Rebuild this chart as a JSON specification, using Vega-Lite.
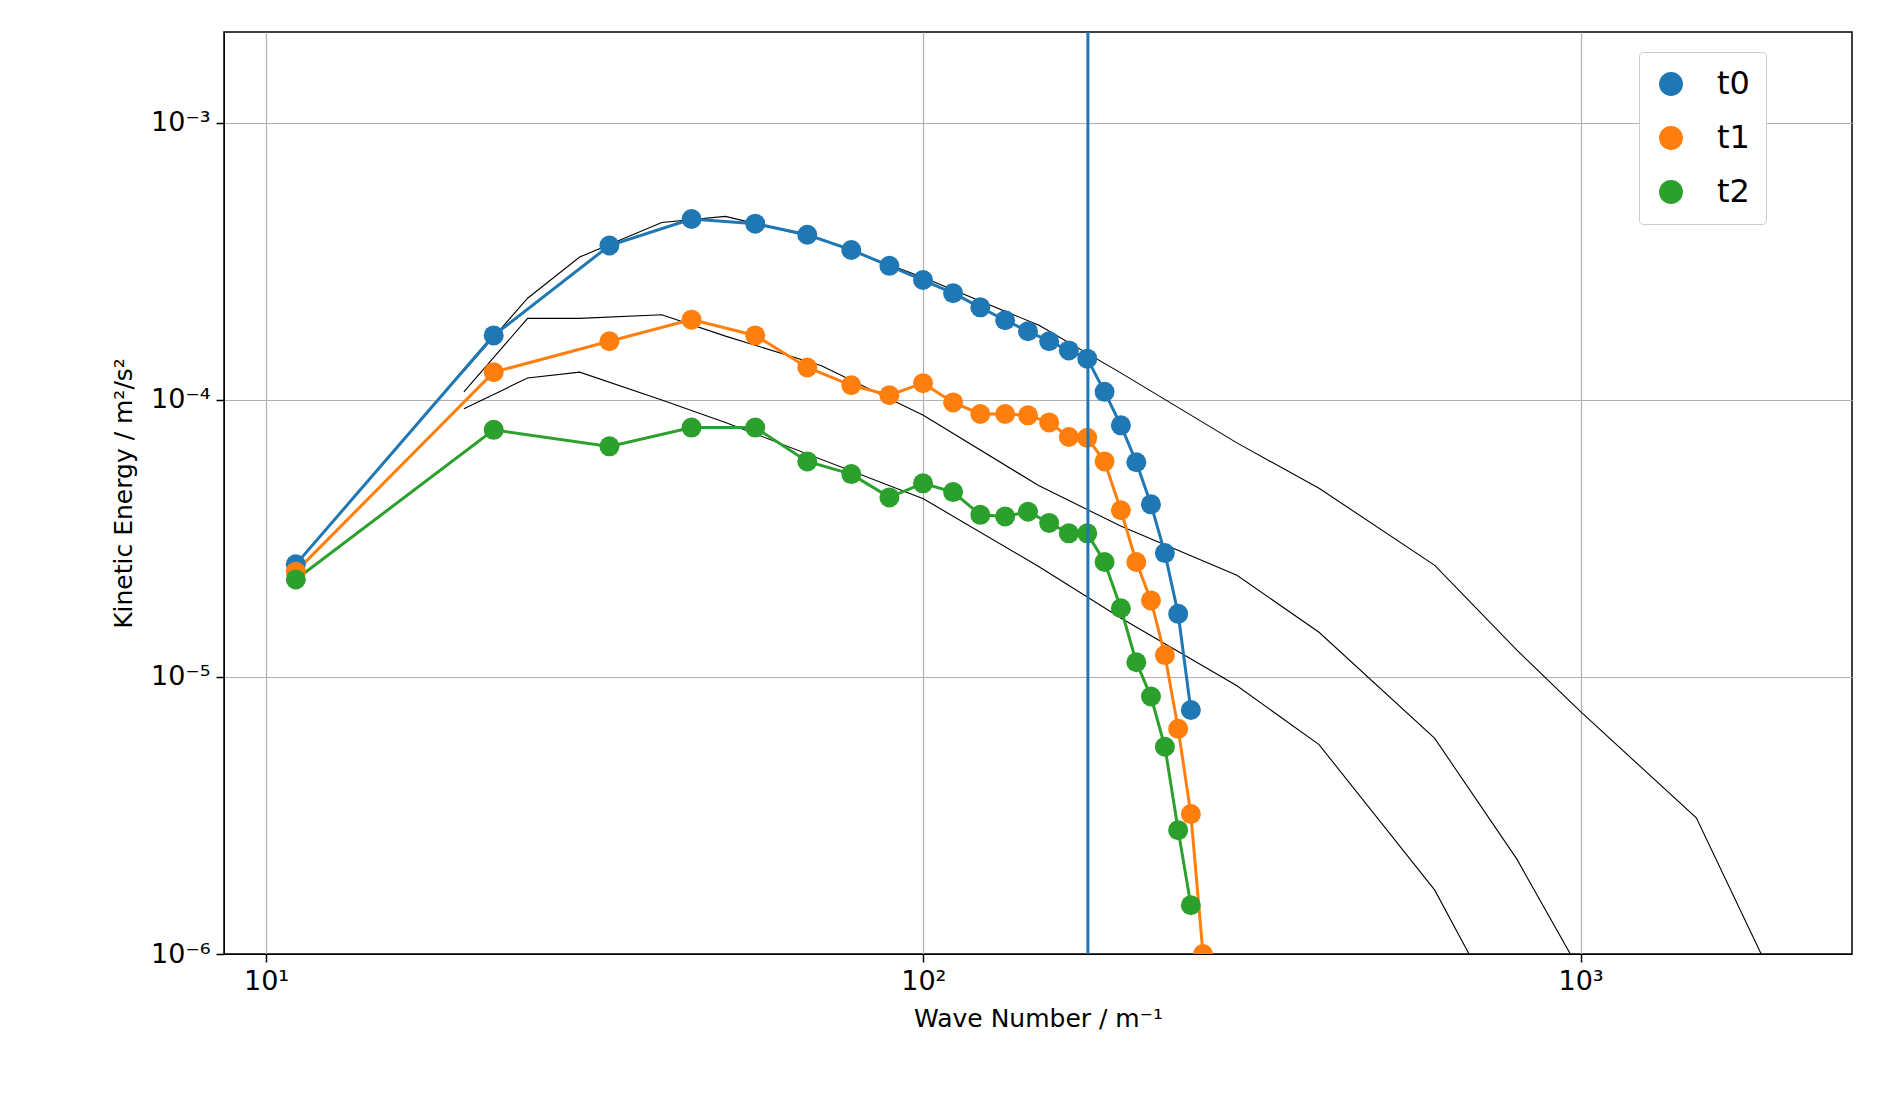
{
"$schema":"https://vega.github.io/schema/vega-lite/v6.json",
"width":1628,"height":922,"autosize":"none",
"padding":{"left":224,"top":32,"right":29,"bottom":164},
"background":"white",
"config":{"view":{"stroke":"black","strokeWidth":1.5},"font":"DejaVu Sans","axis":{"labelFont":"DejaVu Sans","titleFont":"DejaVu Sans","labelFontSize":27,"titleFontSize":25,"titleFontWeight":"normal","labelColor":"black","titleColor":"black","domainColor":"black","tickColor":"black","tickWidth":1.5,"gridColor":"#b0b0b0","gridWidth":1.2}},
"datasets":{
"main":[
{"s":"t0","k":11.1,"E":2.55e-5},{"s":"t0","k":22.2,"E":1.71e-4},{"s":"t0","k":33.3,"E":3.61e-4},{"s":"t0","k":44.4,"E":4.5e-4},{"s":"t0","k":55.5,"E":4.33e-4},{"s":"t0","k":66.6,"E":3.95e-4},{"s":"t0","k":77.7,"E":3.48e-4},{"s":"t0","k":88.8,"E":3.05e-4},{"s":"t0","k":99.9,"E":2.71e-4},{"s":"t0","k":111,"E":2.43e-4},{"s":"t0","k":122.1,"E":2.16e-4},{"s":"t0","k":133.2,"E":1.94e-4},{"s":"t0","k":144.3,"E":1.77e-4},{"s":"t0","k":155.4,"E":1.63e-4},{"s":"t0","k":166.5,"E":1.51e-4},{"s":"t0","k":177.6,"E":1.41e-4},{"s":"t0","k":188.7,"E":1.07e-4},{"s":"t0","k":199.8,"E":8.1e-5},{"s":"t0","k":210.9,"E":5.96e-5},{"s":"t0","k":222,"E":4.2e-5},{"s":"t0","k":233.1,"E":2.8e-5},{"s":"t0","k":244.2,"E":1.69e-5},{"s":"t0","k":255.3,"E":7.6e-6},
{"s":"t1","k":11.1,"E":2.4e-5},{"s":"t1","k":22.2,"E":1.26e-4},{"s":"t1","k":33.3,"E":1.63e-4},{"s":"t1","k":44.4,"E":1.95e-4},{"s":"t1","k":55.5,"E":1.71e-4},{"s":"t1","k":66.6,"E":1.31e-4},{"s":"t1","k":77.7,"E":1.13e-4},{"s":"t1","k":88.8,"E":1.04e-4},{"s":"t1","k":99.9,"E":1.15e-4},{"s":"t1","k":111,"E":9.8e-5},{"s":"t1","k":122.1,"E":8.9e-5},{"s":"t1","k":133.2,"E":8.9e-5},{"s":"t1","k":144.3,"E":8.8e-5},{"s":"t1","k":155.4,"E":8.3e-5},{"s":"t1","k":166.5,"E":7.35e-5},{"s":"t1","k":177.6,"E":7.3e-5},{"s":"t1","k":188.7,"E":6.0e-5},{"s":"t1","k":199.8,"E":4.0e-5},{"s":"t1","k":210.9,"E":2.6e-5},{"s":"t1","k":222,"E":1.89e-5},{"s":"t1","k":233.1,"E":1.2e-5},{"s":"t1","k":244.2,"E":6.5e-6},{"s":"t1","k":255.3,"E":3.2e-6},{"s":"t1","k":266.4,"E":1.0e-6},
{"s":"t2","k":11.1,"E":2.25e-5},{"s":"t2","k":22.2,"E":7.8e-5},{"s":"t2","k":33.3,"E":6.8e-5},{"s":"t2","k":44.4,"E":7.95e-5},{"s":"t2","k":55.5,"E":7.95e-5},{"s":"t2","k":66.6,"E":6.0e-5},{"s":"t2","k":77.7,"E":5.4e-5},{"s":"t2","k":88.8,"E":4.45e-5},{"s":"t2","k":99.9,"E":5.0e-5},{"s":"t2","k":111,"E":4.65e-5},{"s":"t2","k":122.1,"E":3.85e-5},{"s":"t2","k":133.2,"E":3.8e-5},{"s":"t2","k":144.3,"E":3.95e-5},{"s":"t2","k":155.4,"E":3.6e-5},{"s":"t2","k":166.5,"E":3.3e-5},{"s":"t2","k":177.6,"E":3.3e-5},{"s":"t2","k":188.7,"E":2.6e-5},{"s":"t2","k":199.8,"E":1.77e-5},{"s":"t2","k":210.9,"E":1.13e-5},{"s":"t2","k":222,"E":8.5e-6},{"s":"t2","k":233.1,"E":5.6e-6},{"s":"t2","k":244.2,"E":2.8e-6},{"s":"t2","k":255.3,"E":1.5e-6}
],
"ref":[
{"r":"a","k":20,"E":1.27e-4},{"r":"a","k":25,"E":2.33e-4},{"r":"a","k":30,"E":3.28e-4},{"r":"a","k":40,"E":4.37e-4},{"r":"a","k":50,"E":4.6e-4},{"r":"a","k":70,"E":3.8e-4},{"r":"a","k":100,"E":2.77e-4},{"r":"a","k":150,"E":1.86e-4},{"r":"a","k":200,"E":1.25e-4},{"r":"a","k":300,"E":7.0e-5},{"r":"a","k":400,"E":4.8e-5},{"r":"a","k":600,"E":2.53e-5},{"r":"a","k":800,"E":1.25e-5},{"r":"a","k":1000,"E":7.5e-6},{"r":"a","k":1500,"E":3.1e-6},{"r":"a","k":2000,"E":7.4e-7},
{"r":"b","k":20,"E":1.07e-4},{"r":"b","k":25,"E":1.97e-4},{"r":"b","k":30,"E":1.97e-4},{"r":"b","k":40,"E":2.03e-4},{"r":"b","k":50,"E":1.7e-4},{"r":"b","k":70,"E":1.33e-4},{"r":"b","k":100,"E":8.8e-5},{"r":"b","k":150,"E":4.9e-5},{"r":"b","k":200,"E":3.5e-5},{"r":"b","k":300,"E":2.33e-5},{"r":"b","k":400,"E":1.45e-5},{"r":"b","k":600,"E":6.0e-6},{"r":"b","k":800,"E":2.2e-6},{"r":"b","k":1000,"E":8.6e-7},
{"r":"c","k":20,"E":9.3e-5},{"r":"c","k":25,"E":1.2e-4},{"r":"c","k":30,"E":1.26e-4},{"r":"c","k":40,"E":1.0e-4},{"r":"c","k":50,"E":8.3e-5},{"r":"c","k":100,"E":4.4e-5},{"r":"c","k":150,"E":2.5e-5},{"r":"c","k":200,"E":1.63e-5},{"r":"c","k":300,"E":9.3e-6},{"r":"c","k":400,"E":5.7e-6},{"r":"c","k":600,"E":1.7e-6},{"r":"c","k":700,"E":8.6e-7}
],
"vline":[{"k":178}]
},
"layer":[
{"data":{"name":"ref"},"mark":{"type":"line","color":"black","strokeWidth":1.1,"clip":true},
"encoding":{"x":{"field":"k","type":"quantitative","scale":{"type":"log","domain":[8.63,2588],"nice":false},
"axis":{"values":[10,100,1000],"labelExpr":"datum.value==10?'10¹':datum.value==100?'10²':'10³'","title":"Wave Number / m⁻¹","grid":true,"tickSize":8,"labelPadding":6,"titlePadding":12}},
"y":{"field":"E","type":"quantitative","scale":{"type":"log","domain":[1e-6,2.13e-3],"nice":false},
"axis":{"values":[1e-6,1e-5,1e-4,1e-3],"labelExpr":"datum.value<2e-6?'10⁻⁶':datum.value<2e-5?'10⁻⁵':datum.value<2e-4?'10⁻⁴':'10⁻³'","title":"Kinetic Energy / m²/s²","grid":true,"tickSize":8,"labelPadding":6,"titlePadding":14}},
"detail":{"field":"r"}}},
{"data":{"name":"main"},"mark":{"type":"line","strokeWidth":3,"clip":true,"point":{"size":400,"filled":true,"opacity":1}},
"encoding":{"x":{"field":"k","type":"quantitative"},"y":{"field":"E","type":"quantitative"},
"color":{"field":"s","type":"nominal","scale":{"domain":["t0","t1","t2"],"range":["#1f77b4","#ff7f0e","#2ca02c"]},
"legend":{"title":null,"orient":"none","legendX":1415,"legendY":20,"labelFontSize":32,"symbolSize":500,"symbolType":"circle","padding":16,"rowPadding":22,"labelOffset":30,"strokeColor":"#cccccc","fillColor":"white","cornerRadius":4,"labelColor":"black"}}}},
{"data":{"name":"vline"},"mark":{"type":"rule","color":"#1f77b4","strokeWidth":3},"encoding":{"x":{"field":"k","type":"quantitative"}}}
]
}
